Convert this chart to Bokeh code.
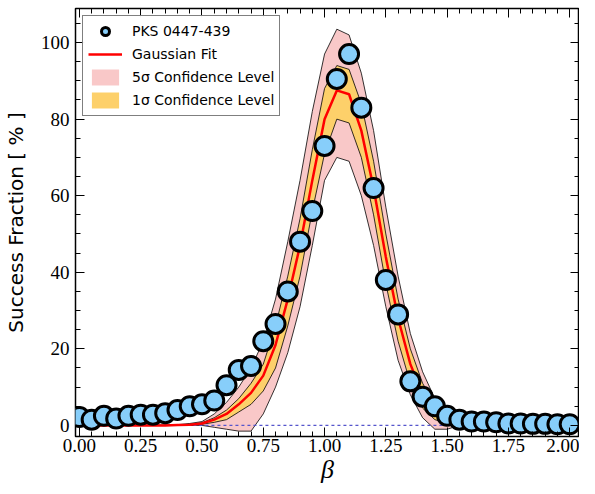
from bokeh.plotting import figure
from bokeh.models import LinearAxis, Range1d, Legend, LegendItem, FixedTicker
from bokeh.embed import file_html
from bokeh.resources import INLINE

beta = [round(0.05*i, 2) for i in range(41)]
frac = [2.2,1.5,2.5,1.8,2.5,2.8,2.8,3.2,4.0,5.0,5.5,6.5,10.5,14.5,15.5,22,26.5,35,48,56,73,90.5,97,83,62,38,29,11.5,7.5,5,2.5,1.5,1.0,1.0,0.8,0.5,0.5,0.4,0.4,0.3,0.3]

fx = beta
fit = [0,0,0,0,0,0,0,0,0.1,0.2,0.5,1.5,3,5.5,8.5,13,21,33,47,64,80,87.5,86.5,77,62,44,28,16,8,4,2,1,0.4,0.1,0,0,0,0,0,0,0]
hi5 = [0,0,0,0,0,0,0,0.1,0.2,0.5,1,3,6,10,15,22,33,48,64,82,97,103.5,102,92,77,57,39,24,14,7,4,2,1,0.3,0,0,0,0,0,0,0]
lo5 = [0,0,0,0,0,0,0,0,0,0,0,-0.5,-1,-1.5,-1.5,3,10,19,31,47,64,70,69,60,47,31,17,8,2,-1,-1,0,0,0,0,0,0,0,0,0,0]
hi1 = [0,0,0,0,0,0,0,0,0.1,0.3,0.7,2,4,7,11,16,26,39,54,72,88,94,93,84,69,50,33,20,11,5.5,3,1.5,0.6,0.2,0,0,0,0,0,0,0]
lo1 = [0,0,0,0,0,0,0,0,0,0.1,0.3,0.8,1.5,3.5,5.5,9,15,26,39,56,71,80,79,70,55,37,22,11,4.5,1.5,0.5,0.3,0.1,0,0,0,0,0,0,0,0]

xt = [0, 0.25, 0.5, 0.75, 1.0, 1.25, 1.5, 1.75, 2.0]
yt = [0, 20, 40, 60, 80, 100]

p = figure(width=579, height=486, output_backend="svg", toolbar_location=None,
           x_range=Range1d(-0.016, 2.04), y_range=Range1d(-2.9, 108.9),
           x_axis_location=None, y_axis_location=None,
           min_border_left=0, min_border_right=0, min_border_top=8, min_border_bottom=0)
p.grid.visible = False
p.outline_line_color = "black"
p.outline_line_width = 1.5

r5 = p.varea(x=fx, y1=lo5, y2=hi5, fill_color="#f9c8c8")
p.line(fx, lo5, color="black", line_width=0.8)
p.line(fx, hi5, color="black", line_width=0.8)
r1 = p.varea(x=fx, y1=lo1, y2=hi1, fill_color="#fdd06a")
p.line(fx, lo1, color="black", line_width=0.8)
p.line(fx, hi1, color="black", line_width=0.8)
p.line([0, 1.5], [0, 0], color="#5555cc", line_dash="3 3", line_width=1.2)
rf = p.line(fx, fit, color="red", line_width=2.5)
rp = p.scatter(beta, frac, size=19, fill_color="#87cefa", line_color="black", line_width=3)

xm = [round(0.05*i, 2) for i in range(42)]
ym = [5*i for i in range(22)]

def mk(ticks, minor, labels):
    ax = LinearAxis(ticker=FixedTicker(ticks=ticks, minor_ticks=minor))
    ax.major_tick_in = 9; ax.major_tick_out = 0
    ax.minor_tick_in = 5; ax.minor_tick_out = 0
    ax.axis_line_color = None
    ax.major_tick_line_color = "black"
    ax.minor_tick_line_color = "black"
    ax.major_label_text_font = "Liberation Serif"
    ax.major_label_text_font_size = "19px"
    ax.major_label_text_color = "black" if labels else None
    ax.axis_label_text_color = "black"
    return ax

bx = mk(xt, xm, True)
bx.major_label_overrides = {t: f"{t:.2f}" for t in xt}
bx.major_label_standoff = 2
bx.axis_label = "β"
bx.axis_label_text_font = "Liberation Serif"
bx.axis_label_text_font_style = "italic"
bx.axis_label_text_font_size = "26px"
bx.axis_label_standoff = 0
ly = mk(yt, ym, True)
ly.axis_label = "Success Fraction [ % ]"
ly.axis_label_text_font = "DejaVu Sans"
ly.axis_label_text_font_style = "normal"
ly.axis_label_text_font_size = "20px"
ly.axis_label_standoff = 10
ly.major_label_standoff = 6
p.add_layout(bx, "below")
p.add_layout(ly, "left")
tx = mk(xt, xm, False); tx.major_label_standoff = 0
ry = mk(yt, ym, False); ry.major_label_standoff = 0
tx.major_label_text_font_size = "1px"
ry.major_label_text_font_size = "1px"
p.add_layout(tx, "above")
p.add_layout(ry, "right")

leg = Legend(items=[LegendItem(label="PKS 0447-439", renderers=[rp]),
                    LegendItem(label="Gaussian Fit", renderers=[rf]),
                    LegendItem(label="5σ Confidence Level", renderers=[r5]),
                    LegendItem(label="1σ Confidence Level", renderers=[r1])],
             location="top_left", label_text_font="DejaVu Sans", label_text_font_size="14px",
             label_text_color="black",
             border_line_color="black", border_line_width=1.2, spacing=3, padding=5,
             margin=7, label_height=20, glyph_height=20, glyph_width=34, label_standoff=10)
p.add_layout(leg)

open("out.html", "w").write(file_html(p, INLINE))
